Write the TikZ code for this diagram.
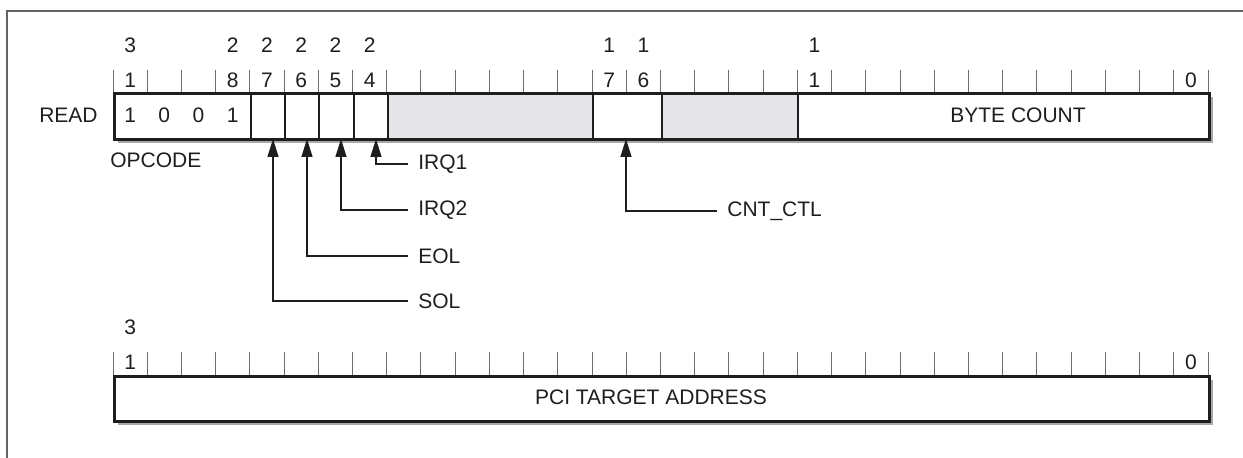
\documentclass[tikz,border=0pt]{standalone}
\usepackage{fontspec}
\setmainfont{Liberation Sans}
\usetikzlibrary{arrows.meta}
\definecolor{fr}{RGB}{100,100,100}
\definecolor{shade}{RGB}{168,168,168}
\definecolor{rsv}{RGB}{230,229,233}
\definecolor{ink}{RGB}{30,30,30}
\definecolor{tk}{RGB}{110,110,110}
\begin{document}
\begin{tikzpicture}[x=0.5pt,y=-0.5pt,
  txt/.style={font=\fontsize{10.5}{12}\selectfont, inner sep=0pt, text=ink},
  lbl/.style={txt, anchor=west, inner xsep=5pt},
  field/.style={draw=ink, line width=1pt, inner sep=0pt, minimum height=23pt, anchor=north west},
  outerbox/.style={draw=ink, line width=1.5pt, inner sep=0pt, anchor=north west},
  tick/.style={draw=tk, line width=0.5pt},
  lead/.style={draw=ink, line width=0.7pt, -{Triangle[length=9pt,width=5.5pt]}},
  shadowbox/.style={fill=shade}]
\useasboundingbox (0,0) rectangle (1243,458);
\def\W{34.21875}
\newcommand\regfield[6]{%
  \pgfmathsetmacro\xa{113+(31-#3)*\W}%
  \pgfmathsetmacro\xb{113+(32-#4)*\W}%
  \pgfmathsetmacro\fldw{(\xb-\xa)*0.5}%
  \node[field, fill=#5, minimum width=\fldw pt] (#1) at (\xa,#2) {#6};}
\newcommand\bitnum[3]{% bit, y, text
  \pgfmathsetmacro\xc{113+(31.5-#1)*\W}%
  \node[txt] at (\xc,#2) {#3};}

% outer frame
\draw[fr, line width=1pt] (7,470) -- (7,11) -- (1260,11);

% ---------- register 1 ----------
\fill[shadowbox] (118,97) rectangle (1213,143);
\foreach \k in {0,...,32} \draw[tick] ({113+\k*\W},70) -- ({113+\k*\W},92);
\bitnum{31}{45}{3}\bitnum{31}{80}{1}
\bitnum{28}{45}{2}\bitnum{28}{80}{8}
\bitnum{27}{45}{2}\bitnum{27}{80}{7}
\bitnum{26}{45}{2}\bitnum{26}{80}{6}
\bitnum{25}{45}{2}\bitnum{25}{80}{5}
\bitnum{24}{45}{2}\bitnum{24}{80}{4}
\bitnum{17}{45}{1}\bitnum{17}{80}{7}
\bitnum{16}{45}{1}\bitnum{16}{80}{6}
\bitnum{11}{45}{1}\bitnum{11}{80}{1}
\bitnum{0}{80}{0}

\regfield{opc}{92}{31}{28}{white}{}
\regfield{f27}{92}{27}{27}{white}{}
\regfield{f26}{92}{26}{26}{white}{}
\regfield{f25}{92}{25}{25}{white}{}
\regfield{f24}{92}{24}{24}{white}{}
\regfield{r1}{92}{23}{18}{rsv}{}
\regfield{cnt}{92}{17}{16}{white}{}
\regfield{r2}{92}{15}{12}{rsv}{}
\regfield{bc}{92}{11}{0}{white}{}
\node[outerbox, minimum width=547.5pt, minimum height=23pt] (reg1) at (113,92) {};

\bitnum{31}{115}{1}\bitnum{30}{115}{0}\bitnum{29}{115}{0}\bitnum{28}{115}{1}
\node[txt] (bctext) at (1018,115) {BYTE COUNT};
\node[txt, anchor=east] (read) at (98,115) {READ};
\node[txt, anchor=west] (opcode) at (110,160) {OPCODE};

% leaders
\coordinate (t27) at (273,139);
\coordinate (t26) at (307,139);
\coordinate (t25) at (341,139);
\coordinate (t24) at (376,139);
\coordinate (t17) at (626,139);
\node[lbl] (irq1) at (408,164) {IRQ1};
\node[lbl] (irq2) at (408,210) {IRQ2};
\node[lbl] (eol) at (408,256) {EOL};
\node[lbl] (sol) at (408,301) {SOL};
\node[lbl] (cntctl) at (717,211) {CNT\_CTL};
\draw[lead] (irq1.west) -| (t24);
\draw[lead] (irq2.west) -| (t25);
\draw[lead] (eol.west) -| (t26);
\draw[lead] (sol.west) -| (t27);
\draw[lead] (cntctl.west) -| (t17);

% ---------- register 2 ----------
\fill[shadowbox] (118,380) rectangle (1213,425);
\foreach \k in {0,...,32} \draw[tick] ({113+\k*\W},352) -- ({113+\k*\W},375);
\bitnum{31}{327}{3}\bitnum{31}{362}{1}
\bitnum{0}{362}{0}
\node[outerbox, fill=white, minimum width=547.5pt, minimum height=22.5pt] (reg2) at (113,375) {};
\node[txt] (pcitext) at (651,397) {PCI TARGET ADDRESS};
\end{tikzpicture}
\end{document}
